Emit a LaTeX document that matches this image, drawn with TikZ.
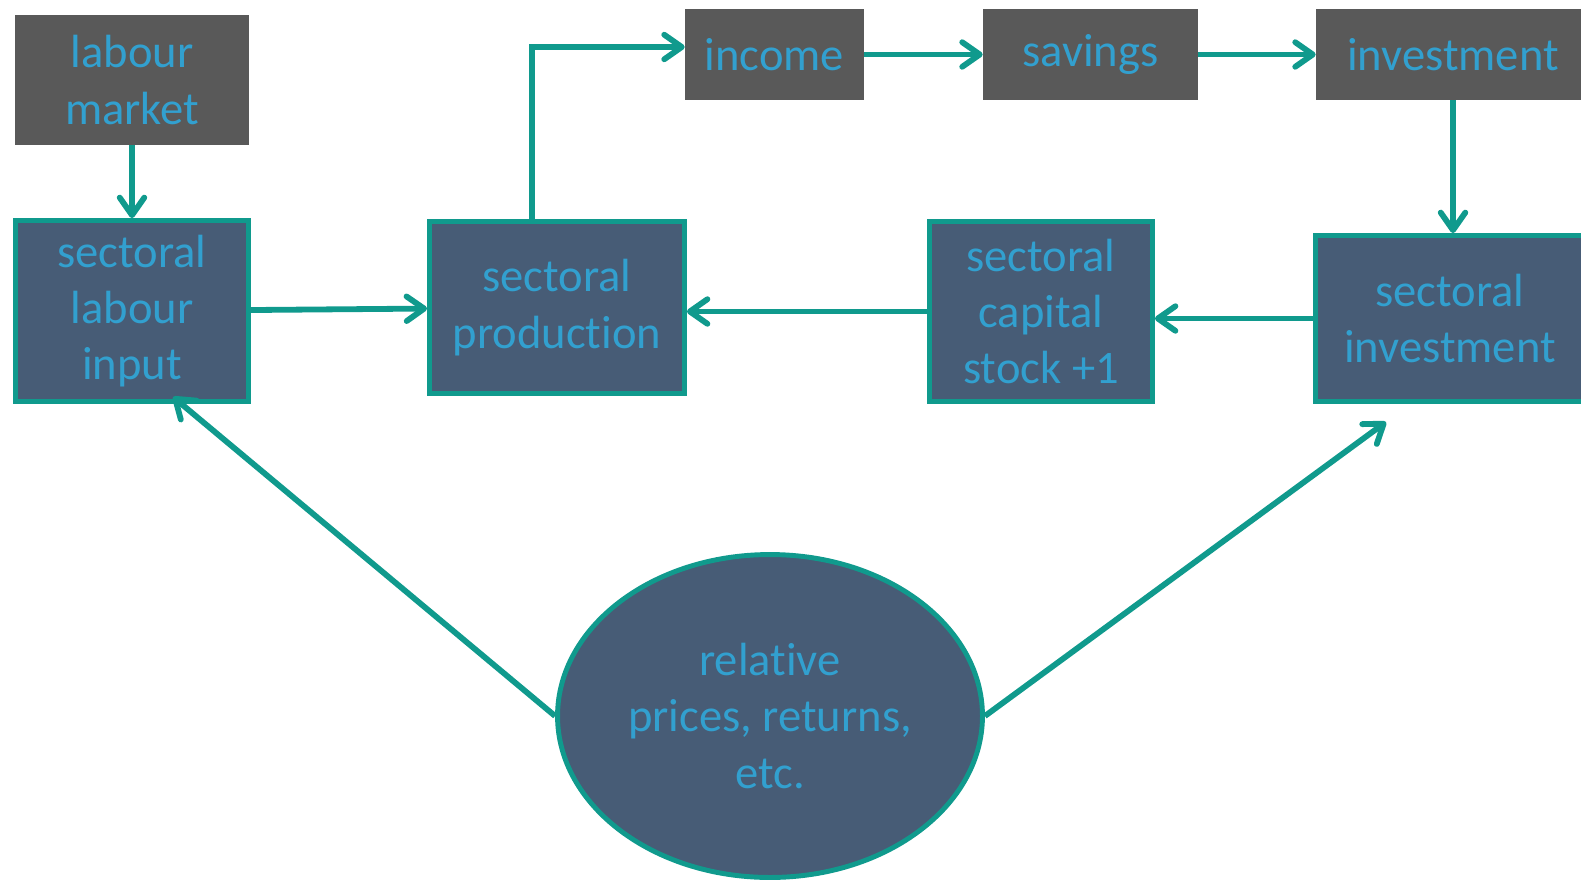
\documentclass[tikz,border=0pt]{standalone}
\usepackage{fontspec}
\setmainfont{Carlito}[Ligatures=NoCommon,Contextuals=NoAlternate]
\usetikzlibrary{arrows.meta,shapes.geometric,calc}
\definecolor{flowteal}{RGB}{16,154,141}
\definecolor{slate}{RGB}{71,92,118}
\definecolor{darkgrey}{RGB}{89,89,89}
\definecolor{skyblue}{RGB}{50,160,207}

\begin{document}
\begin{tikzpicture}[x=0.02cm,y=-0.02cm]
    \tikzstyle{label}=[text=skyblue,align=center,inner sep=0pt,font=\fontsize{26.5}{32}\selectfont]
    \tikzstyle{greybox}=[rectangle,label,fill=darkgrey]
    \tikzstyle{bluebox}=[rectangle,label,fill=slate,draw=flowteal,line width=2.8pt]
    \tikzstyle{bubble}=[ellipse,label,fill=slate,draw=flowteal,line width=2.8pt]
    \tikzstyle{flow}=[flowteal,line width=3.3pt,-{Straight Barb[length=10pt,width=14pt,round]}]
    \useasboundingbox (0,0) rectangle (1581,882);
    \node (labmarket)  at (132,80)    [greybox,minimum width=4.68cm,minimum height=2.6cm]  {labour\\market};
    \node (labinput)   at (132,311)   [bluebox,minimum width=4.66cm,minimum height=3.62cm] {sectoral\\labour\\input};
    \node (production) at (557,307.5) [bluebox,minimum width=5.1cm,minimum height=3.44cm]  {sectoral\\production};
    \node (income)     at (774.5,54.5)  [greybox,minimum width=3.58cm,minimum height=1.82cm] {income};
    \node (savings)    at (1090.5,54.5) [greybox,minimum width=4.3cm,minimum height=1.82cm]  {savings};
    \node (investment) at (1453,54.5)   [greybox,minimum width=5.48cm,minimum height=1.82cm] {investment};
    \node (capital)    at (1041,311.5)  [bluebox,minimum width=4.46cm,minimum height=3.6cm]  {sectoral\\capital\\stock +1};
    \node (secinvest)  at (1450,318.5)  [bluebox,minimum width=5.38cm,minimum height=3.32cm] {sectoral\\investment};
    \node (prices)     at (770,716)     [bubble,minimum width=8.5cm,minimum height=6.46cm]   {relative\\prices, returns,\\etc.};
    \coordinate (invtip) at ($(secinvest.south)+(-64,18)$);
    \draw [flow] (labmarket) -- (labinput);
    \draw [flow] (labinput) -- (production);
    \draw [flow] ($(production.north)+(-25,0)$) |- ($(income.west)+(0,-7.5)$);
    \draw [flow] (income) -- (savings);
    \draw [flow] (savings) -- (investment);
    \draw [flow] (investment.south) -- (investment.south |- secinvest.north);
    \draw [flow] (secinvest.west) -- (capital.east |- secinvest.west);
    \draw [flow] (capital.west) -- (production.east |- capital.west);
    \draw [flow] (prices.west) -- ($(labinput.south)+(41,-7)$);
    \draw [flow] (prices.east) -- (invtip);
\end{tikzpicture}
\end{document}
